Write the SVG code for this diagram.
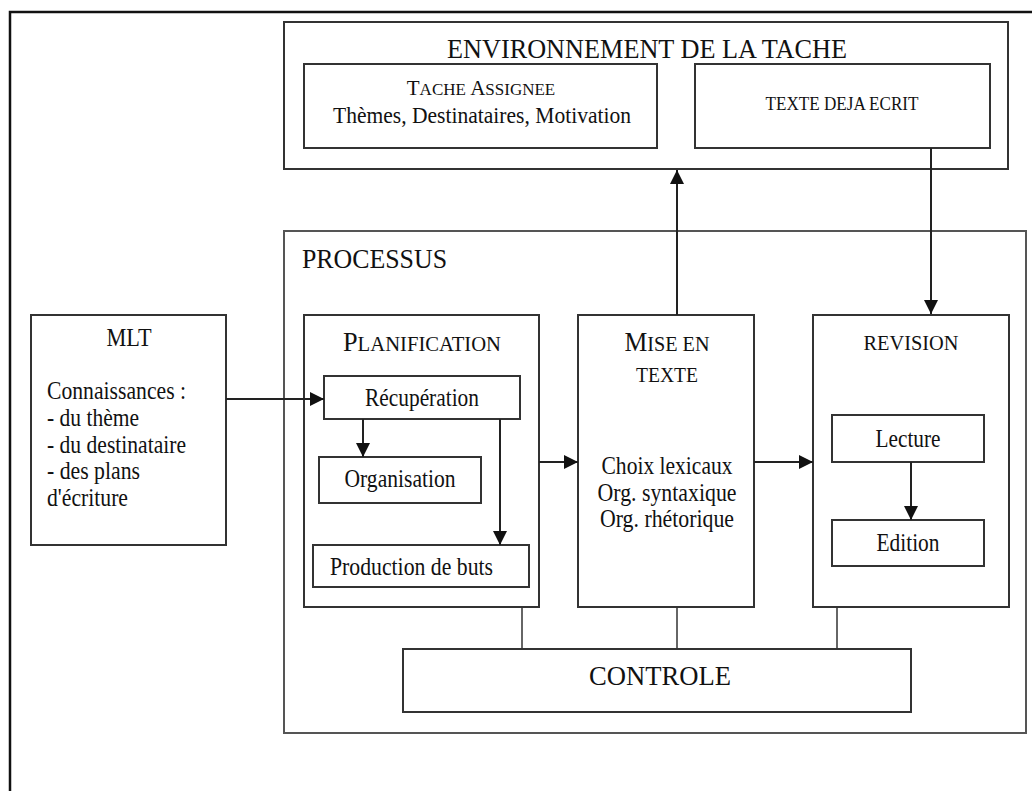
<svg xmlns="http://www.w3.org/2000/svg" width="1032" height="791" viewBox="0 0 1032 791">
<style>
  .box { fill: #ffffff; stroke: #333333; stroke-width: 2; }
  .frame { fill: none; stroke: #111111; stroke-width: 2.5; }
  text { font-family: "Liberation Serif", "Times New Roman", serif; fill: #111111; }
  .c { text-anchor: middle; }
  .f22 { font-size: 25px; }
  .conn { stroke: #222222; stroke-width: 2; fill: none; }
  .thin { stroke: #333333; stroke-width: 1.5; fill: none; }
</style>
<defs>
  <marker id="arr" markerUnits="userSpaceOnUse" markerWidth="14" markerHeight="14" viewBox="0 0 14 14" refX="14" refY="7" orient="auto">
    <path d="M0,0 L14,7 L0,14 Z" fill="#111111"/>
  </marker>
</defs>
<rect x="0" y="0" width="1032" height="791" fill="#ffffff"/>
<rect class="frame" x="10" y="12" width="1040" height="800"/>

<g id="environnement">
  <rect class="box" x="284" y="22" width="724" height="147"/>
  <text class="c" x="647" y="58" font-size="27" textLength="400" lengthAdjust="spacingAndGlyphs">ENVIRONNEMENT DE LA TACHE</text>
</g>
<g id="tache-assignee">
  <rect class="box" x="304" y="64" width="353" height="84"/>
  <text class="c" x="481" y="95" font-size="17"><tspan font-size="21">T</tspan>ACHE <tspan font-size="21">A</tspan>SSIGNEE</text>
  <text class="c" x="482" y="123" font-size="24" textLength="298" lengthAdjust="spacingAndGlyphs">Thèmes, Destinataires, Motivation</text>
</g>
<g id="texte-deja-ecrit">
  <rect class="box" x="695" y="64" width="295" height="84"/>
  <text class="c" x="842" y="110" font-size="18" textLength="153" lengthAdjust="spacingAndGlyphs">TEXTE DEJA ECRIT</text>
</g>

<g id="processus">
  <rect x="284" y="231" width="742" height="502" fill="#ffffff" stroke="#555555" stroke-width="2"/>
  <text x="302" y="268" font-size="28" textLength="145" lengthAdjust="spacingAndGlyphs">PROCESSUS</text>
</g>

<g id="mlt">
  <rect class="box" x="31" y="315" width="195" height="230"/>
  <text class="c f22" x="129" y="346" textLength="45" lengthAdjust="spacingAndGlyphs">MLT</text>
  <text class="f22" x="47" y="399" textLength="139" lengthAdjust="spacingAndGlyphs">Connaissances :</text>
  <text class="f22" x="47" y="426" textLength="92" lengthAdjust="spacingAndGlyphs">- du thème</text>
  <text class="f22" x="47" y="453" textLength="139" lengthAdjust="spacingAndGlyphs">- du destinataire</text>
  <text class="f22" x="47" y="479" textLength="93" lengthAdjust="spacingAndGlyphs">- des plans</text>
  <text class="f22" x="47" y="506" textLength="81" lengthAdjust="spacingAndGlyphs">d'écriture</text>
</g>

<g id="planification">
  <rect class="box" x="304" y="315" width="235" height="292"/>
  <text class="c" x="422" y="351" font-size="22" textLength="158" lengthAdjust="spacingAndGlyphs"><tspan font-size="28">P</tspan>LANIFICATION</text>
</g>
<g id="recuperation">
  <rect class="box" x="324" y="376" width="196" height="43"/>
  <text class="c f22" x="422" y="406" textLength="114" lengthAdjust="spacingAndGlyphs">Récupération</text>
</g>
<g id="organisation">
  <rect class="box" x="319" y="457" width="162" height="46"/>
  <text class="c f22" x="400" y="487" textLength="111" lengthAdjust="spacingAndGlyphs">Organisation</text>
</g>
<g id="production-de-buts">
  <rect class="box" x="313" y="545" width="216" height="42"/>
  <text class="f22" x="330" y="575" textLength="163" lengthAdjust="spacingAndGlyphs">Production de buts</text>
</g>

<g id="mise-en-texte">
  <rect class="box" x="578" y="315" width="176" height="292"/>
  <text class="c" x="667" y="351" font-size="22" textLength="85" lengthAdjust="spacingAndGlyphs"><tspan font-size="28">M</tspan>ISE EN</text>
  <text class="c" x="667" y="382" font-size="22" textLength="62" lengthAdjust="spacingAndGlyphs">TEXTE</text>
  <text class="c f22" x="667" y="474" textLength="131" lengthAdjust="spacingAndGlyphs">Choix lexicaux</text>
  <text class="c f22" x="667" y="501" textLength="139" lengthAdjust="spacingAndGlyphs">Org. syntaxique</text>
  <text class="c f22" x="667" y="527" textLength="134" lengthAdjust="spacingAndGlyphs">Org. rhétorique</text>
</g>

<g id="revision">
  <rect class="box" x="813" y="315" width="196" height="292"/>
  <text class="c" x="911" y="350" font-size="22" textLength="95" lengthAdjust="spacingAndGlyphs">REVISION</text>
</g>
<g id="lecture">
  <rect class="box" x="832" y="415" width="152" height="47"/>
  <text class="c f22" x="908" y="447" textLength="65" lengthAdjust="spacingAndGlyphs">Lecture</text>
</g>
<g id="edition">
  <rect class="box" x="832" y="520" width="152" height="46"/>
  <text class="c f22" x="908" y="551" textLength="63" lengthAdjust="spacingAndGlyphs">Edition</text>
</g>

<g id="controle">
  <rect class="box" x="403" y="649" width="508" height="63"/>
  <text class="c" x="660" y="685" font-size="28" textLength="142" lengthAdjust="spacingAndGlyphs">CONTROLE</text>
</g>

<g id="connectors">
  <line class="conn" x1="226" y1="399" x2="324" y2="399" marker-end="url(#arr)"/>
  <line class="conn" x1="363" y1="419" x2="363" y2="457" marker-end="url(#arr)"/>
  <line class="conn" x1="500" y1="419" x2="500" y2="545" marker-end="url(#arr)"/>
  <line class="conn" x1="539" y1="462" x2="578" y2="462" marker-end="url(#arr)"/>
  <line class="conn" x1="754" y1="462" x2="813" y2="462" marker-end="url(#arr)"/>
  <line class="conn" x1="911" y1="462" x2="911" y2="520" marker-end="url(#arr)"/>
  <line class="conn" x1="677" y1="315" x2="677" y2="170" marker-end="url(#arr)"/>
  <line class="conn" x1="931" y1="148" x2="931" y2="314" marker-end="url(#arr)"/>
  <line class="thin" x1="522" y1="607" x2="522" y2="649"/>
  <line class="thin" x1="677" y1="607" x2="677" y2="649"/>
  <line class="thin" x1="837" y1="607" x2="837" y2="649"/>
</g>
</svg>
